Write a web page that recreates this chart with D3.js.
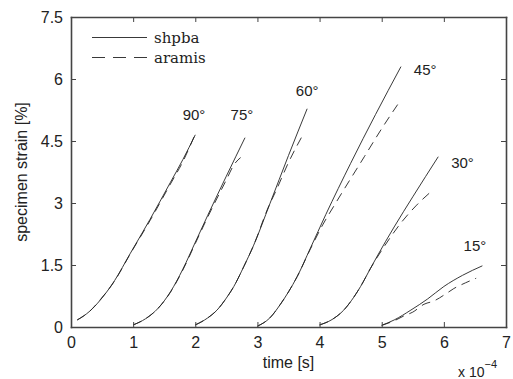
<!DOCTYPE html>
<html>
<head>
<meta charset="utf-8">
<script src="https://cdn.jsdelivr.net/npm/d3@7"></script>
<style>
  body { margin: 0; background: #fff; }
  svg { display: block; }
  .tick text { font-family: "Liberation Sans", Arial, sans-serif; font-size: 16px; fill: #222; }
</style>
</head>
<body>
<svg width="513" height="379"></svg>
<script>
// time in 1e-4 s, strain in %
var angles = ["90°", "75°", "60°", "45°", "30°", "15°"];

var shpba90 = [[0.10,0.17],[0.3,0.38],[0.47,0.65],[0.7,1.12],[0.95,1.77],[1.27,2.6],[1.6,3.5],[1.8,4.05],[2.0,4.65]];
var aramis90 = [[0.10,0.17],[0.3,0.38],[0.47,0.66],[0.7,1.11],[0.95,1.76],[1.27,2.57],[1.6,3.46],[1.8,4.0],[1.98,4.6]];

var shpba75 = [[1.0,0.05],[1.2,0.2],[1.4,0.45],[1.6,0.85],[1.8,1.4],[2.0,2.05],[2.2,2.7],[2.5,3.65],[2.8,4.58]];
var aramis75 = [[1.0,0.05],[1.2,0.2],[1.4,0.45],[1.6,0.84],[1.8,1.38],[2.0,2.02],[2.2,2.66],[2.5,3.56],[2.62,3.92],[2.73,4.1]];

var shpba60 = [[2.0,0.05],[2.2,0.22],[2.35,0.41],[2.5,0.7],[2.62,0.98],[2.78,1.46],[2.94,1.98],[3.2,2.98],[3.5,4.15],[3.8,5.28]];
var aramis60 = [[2.0,0.05],[2.2,0.22],[2.35,0.41],[2.5,0.7],[2.62,0.98],[2.78,1.46],[2.94,1.98],[3.17,2.88],[3.3,3.3],[3.5,3.98],[3.75,4.7]];

var shpba45 = [[3.0,0.02],[3.2,0.22],[3.37,0.55],[3.5,0.85],[3.64,1.22],[3.85,1.9],[4.1,2.72],[4.5,3.96],[4.9,5.14],[5.31,6.3]];
var aramis45 = [[3.0,0.02],[3.2,0.22],[3.37,0.55],[3.5,0.85],[3.64,1.22],[3.85,1.88],[4.05,2.47],[4.26,3.0],[4.72,4.12],[5.0,4.8],[5.31,5.5]];

var shpba30 = [[4.0,0.05],[4.2,0.18],[4.39,0.41],[4.55,0.72],[4.66,0.98],[4.82,1.42],[4.93,1.72],[5.2,2.42],[5.5,3.15],[5.91,4.12]];
var aramis30 = [[4.0,0.05],[4.2,0.18],[4.39,0.41],[4.55,0.72],[4.66,0.98],[4.82,1.42],[5.05,1.97],[5.3,2.5],[5.55,2.93],[5.82,3.31]];

var shpba15 = [[5.0,0.04],[5.2,0.17],[5.47,0.41],[5.74,0.68],[6.0,0.98],[6.3,1.25],[6.62,1.48]];
var aramis15 = [[5.0,0.04],[5.2,0.15],[5.36,0.27],[5.5,0.36],[5.68,0.55],[5.84,0.63],[6.03,0.8],[6.16,0.93],[6.35,1.07],[6.52,1.18]];

// label anchor points (data coords)
var labelPos = [[1.98,5.0],[2.75,5.0],[3.8,5.6],[5.7,6.1],[6.3,3.85],[6.5,1.85]];

var xTicks = [0, 1, 2, 3, 4, 5, 6, 7];
var yTicks = [0, 1.5, 3, 4.5, 6, 7.5];

var sans = "'Liberation Sans', Arial, sans-serif";
var serif = "'DejaVu Serif', serif";

var svg = d3.select("svg"),
    margin = {left: 71, right: 7, top: 17, bottom: 52},
    width = +svg.attr("width") - margin.left - margin.right,
    height = +svg.attr("height") - margin.top - margin.bottom;

var x = d3.scaleLinear().domain([0, 7]).range([0, width]);
var y = d3.scaleLinear().domain([0, 7.5]).range([height, 0]);

var g = svg.append("g").attr("transform", "translate(" + margin.left + "," + margin.top + ")");

var line = d3.line()
    .x(function(d) { return x(d[0]); })
    .y(function(d) { return y(d[1]); })
    .curve(d3.curveMonotoneX);

var solids = [shpba90, shpba75, shpba60, shpba45, shpba30, shpba15];
var dashes = [aramis90, aramis75, aramis60, aramis45, aramis30, aramis15];

g.selectAll(".aramis")
    .data(dashes)
    .enter().append("path")
    .attr("class", "aramis")
    .attr("d", line)
    .attr("fill", "none")
    .attr("stroke", "#222")
    .attr("stroke-width", 0.9)
    .attr("stroke-dasharray", "9,6");

g.selectAll(".shpba")
    .data(solids)
    .enter().append("path")
    .attr("class", "shpba")
    .attr("d", line)
    .attr("fill", "none")
    .attr("stroke", "#222")
    .attr("stroke-width", 0.9);

g.selectAll(".angle")
    .data(angles)
    .enter().append("text")
    .attr("class", "angle")
    .attr("x", function(d, i) { return x(labelPos[i][0]); })
    .attr("y", function(d, i) { return y(labelPos[i][1]); })
    .attr("text-anchor", "middle")
    .style("font-family", sans)
    .style("font-size", "15px")
    .style("fill", "#222")
    .text(function(d) { return d; });

// axes, ticks inward on all four sides
var axisColor = "#444";
function styleAxis(sel) {
    sel.select(".domain").attr("stroke", axisColor).attr("stroke-width", 1.6);
    sel.selectAll(".tick line").attr("stroke", axisColor).attr("stroke-width", 1);
}

g.append("g")
    .attr("transform", "translate(0," + height + ")")
    .call(d3.axisBottom(x).tickValues(xTicks).tickSizeInner(-5).tickSizeOuter(0).tickPadding(10).tickFormat(d3.format("d")))
    .call(styleAxis);

g.append("g")
    .call(d3.axisTop(x).tickValues(xTicks).tickSizeInner(-5).tickSizeOuter(0).tickFormat(""))
    .call(styleAxis);

g.append("g")
    .call(d3.axisLeft(y).tickValues(yTicks).tickSizeInner(-5).tickSizeOuter(0).tickPadding(8).tickFormat(function(d) { return d; }))
    .call(styleAxis);

g.append("g")
    .attr("transform", "translate(" + width + ",0)")
    .call(d3.axisRight(y).tickValues(yTicks).tickSizeInner(-5).tickSizeOuter(0).tickFormat(""))
    .call(styleAxis);

g.selectAll(".domain").attr("stroke-linecap", "square");

// axis labels
svg.append("text")
    .attr("x", margin.left + width / 2)
    .attr("y", 368)
    .attr("text-anchor", "middle")
    .style("font-family", sans)
    .style("font-size", "16px")
    .style("fill", "#222")
    .text("time [s]");

svg.append("text")
    .attr("transform", "translate(27," + (margin.top + height / 2) + ") rotate(-90)")
    .attr("text-anchor", "middle")
    .style("font-family", sans)
    .style("font-size", "16px")
    .style("fill", "#222")
    .text("specimen strain [%]");

var mult = svg.append("text")
    .attr("x", 458)
    .attr("y", 377)
    .style("font-family", sans)
    .style("font-size", "14px")
    .style("fill", "#222");
mult.append("tspan").text("x 10");
mult.append("tspan").attr("dy", -9).style("font-size", "11px").text("−4");

// legend
var legend = g.append("g").attr("transform", "translate(21,20)");
var legendItems = ["shpba", "aramis"];
legendItems.forEach(function(name, i) {
    legend.append("line")
        .attr("x1", 0).attr("x2", 55)
        .attr("y1", i * 20 + 0.5).attr("y2", i * 20 + 0.5)
        .attr("stroke", "#222")
        .attr("stroke-width", 0.9)
        .attr("stroke-dasharray", i === 0 ? null : "13,8");
    legend.append("text")
        .attr("x", 62)
        .attr("y", i * 20 + 6)
        .style("font-family", serif)
        .style("font-size", "15px")
        .style("font-weight", "300")
        .style("fill", "#222")
        .text(name);
});
</script>
</body>
</html>
